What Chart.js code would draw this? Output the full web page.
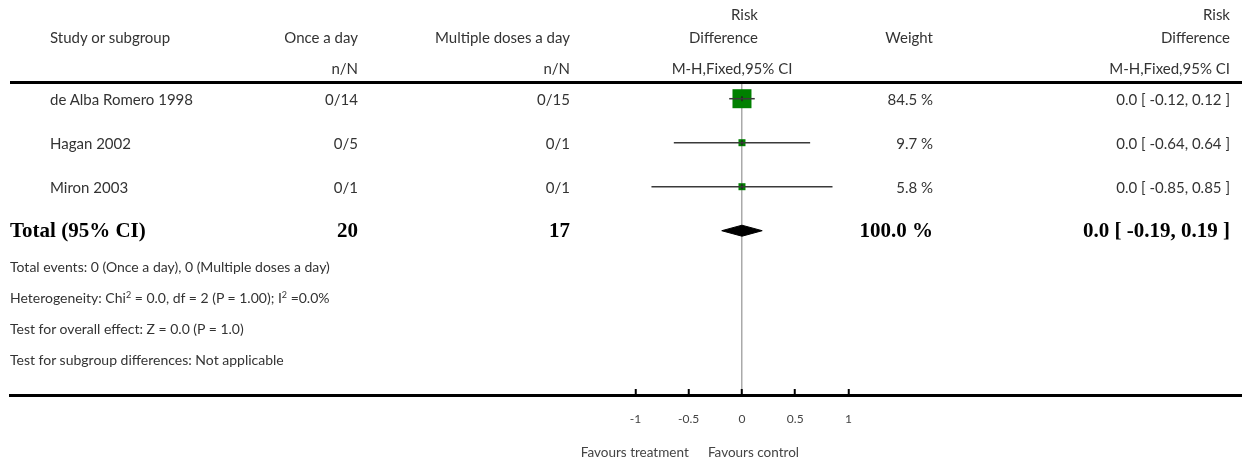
<!DOCTYPE html>
<html>
<head>
<meta charset="utf-8">
<script src="https://cdn.jsdelivr.net/npm/chart.js@4/dist/chart.umd.min.js"></script>
<style>
  body { margin: 0; background: #fff; }
  #wrap { position: relative; width: 1242px; height: 463px; font-family: Lato, "Open Sans", sans-serif; font-size: 15px; color: #333; }
  #plot { position: absolute; left: 0; top: 0; }
  .cell { position: absolute; white-space: nowrap; line-height: 1.2; transform: translateY(-50%); }
  .cell.c { transform: translate(-50%, -50%); }
  .bold { font-family: "Liberation Serif", "DejaVu Serif", serif; font-weight: bold; font-size: 21px; color: #000; }
  .small { font-size: 13.5px; color: #444; }
  .note { font-size: 14px; }
  sup { font-size: 9px; line-height: 0; vertical-align: 5px; }
  #rule { position: absolute; left: 10px; top: 81px; width: 1232px; height: 3px; background: #000; }
</style>
</head>
<body>
<div id="wrap">
  <canvas id="plot" width="1242" height="463"></canvas>
  <div id="rule"></div>
</div>
<script>
// data
const studies = ['de Alba Romero 1998', 'Hagan 2002', 'Miron 2003'];
const onceEvents = ['0/14', '0/5', '0/1'];
const multiEvents = ['0/15', '0/1', '0/1'];
const rd = [0.0, 0.0, 0.0];
const rdLow = [-0.12, -0.64, -0.85];
const rdHigh = [0.12, 0.64, 0.85];
const weights = [84.5, 9.7, 5.8];

const totalLabel = 'Total (95% CI)';
const totalOnce = 20;
const totalMulti = 17;
const totalWeight = 100.0;
const totalRd = 0.0;
const totalLow = -0.19;
const totalHigh = 0.19;

const xTicks = [-1, -0.5, 0, 0.5, 1];
const footnotes = [
    'Total events: 0 (Once a day), 0 (Multiple doses a day)',
    'Heterogeneity: Chi<sup>2</sup> = 0.0, df = 2 (P = 1.00); I<sup>2</sup> =0.0%',
    'Test for overall effect: Z = 0.0 (P = 1.0)',
    'Test for subgroup differences: Not applicable'
];

const W = 1242;
const wrap = document.getElementById('wrap');
const totalRow = studies.length;

function markerSide(w) {
    // square area follows the weight, with a minimum size
    return Math.max(7, 19 * Math.sqrt(w / 84.5));
}

function fmtCI(est, lo, hi) {
    return est.toFixed(1) + ' [ ' + lo.toFixed(2) + ', ' + hi.toFixed(2) + ' ]';
}

const datasets = [];

// confidence intervals (first datasets are drawn on top)
studies.forEach((s, i) => {
    datasets.push({
        data: [{ x: rdLow[i], y: i }, { x: rdHigh[i], y: i }],
        showLine: true,
        borderColor: '#3a3a3a',
        borderWidth: 1.5,
        pointRadius: 0
    });
});

// small centre mark
datasets.push({
    data: studies.map((s, i) => ({ x: rd[i], y: i })),
    pointStyle: 'line',
    rotation: 90,
    pointRadius: 2.5,
    borderColor: '#222',
    borderWidth: 1.5
});

// weight squares
datasets.push({
    data: studies.map((s, i) => ({ x: rd[i], y: i })),
    pointStyle: 'rect',
    pointRadius: ctx => markerSide(weights[ctx.dataIndex]) / (2 * Math.SQRT1_2),
    backgroundColor: '#008000',
    borderWidth: 0
});

// pooled diamond
const dh = 0.125;
datasets.push({
    data: [
        { x: totalLow, y: totalRow },
        { x: totalRd, y: totalRow - dh },
        { x: totalHigh, y: totalRow },
        { x: totalRd, y: totalRow + dh },
        { x: totalLow, y: totalRow }
    ],
    showLine: true,
    fill: 'shape',
    backgroundColor: '#000',
    borderColor: '#000',
    borderWidth: 1,
    pointRadius: 0
});

const chart = new Chart(document.getElementById('plot'), {
    type: 'scatter',
    data: { datasets: datasets },
    options: {
        responsive: false,
        animation: false,
        events: [],
        layout: { autoPadding: false, padding: { left: 10, right: 0, top: 83, bottom: 0 } },
        plugins: { legend: { display: false }, tooltip: { enabled: false } },
        scales: {
            x: {
                type: 'linear',
                min: -6.873,
                max: 4.695,
                afterBuildTicks: s => { s.ticks = xTicks.map(v => ({ value: v })); },
                afterFit: s => { s.height = 68; },
                border: { display: true, color: '#000', width: 3 },
                grid: {
                    color: c => (c.tick && c.tick.value === 0) ? '#aaa' : 'rgba(0,0,0,0)',
                    lineWidth: 1.5,
                    drawTicks: true,
                    tickLength: -6,
                    tickColor: '#000',
                    tickWidth: 2
                },
                ticks: {
                    padding: 23,
                    color: '#444',
                    font: { family: 'Lato', size: 12 },
                    callback: v => String(v)
                }
            },
            y: {
                type: 'linear',
                display: false,
                reverse: true,
                min: -0.357,
                max: 6.734
            }
        }
    }
});

function put(html, x, y, align, cls) {
    const el = document.createElement('div');
    el.className = 'cell ' + (cls || '');
    el.innerHTML = html;
    el.style.top = y + 'px';
    if (align === 'right') el.style.right = (W - x) + 'px';
    else if (align === 'center') { el.style.left = x + 'px'; el.classList.add('c'); }
    else el.style.left = x + 'px';
    wrap.appendChild(el);
}

// header
put('Study or subgroup', 50, 37, 'left');
put('Once a day', 358, 37, 'right');
put('n/N', 358, 68, 'right');
put('Multiple doses a day', 570, 37, 'right');
put('n/N', 570, 68, 'right');
put('Risk', 758, 14, 'right');
put('Difference', 758, 37, 'right');
put('M-H,Fixed,95% CI', 732, 68, 'center');
put('Weight', 933, 37, 'right');
put('Risk', 1230, 14, 'right');
put('Difference', 1230, 37, 'right');
put('M-H,Fixed,95% CI', 1230, 68, 'right');

// study rows, placed on the chart's own y scale
const ys = chart.scales.y;
studies.forEach((s, i) => {
    const y = ys.getPixelForValue(i);
    put(s, 50, y, 'left');
    put(onceEvents[i], 358, y, 'right');
    put(multiEvents[i], 570, y, 'right');
    put(weights[i].toFixed(1) + ' %', 933, y, 'right');
    put(fmtCI(rd[i], rdLow[i], rdHigh[i]), 1230, y, 'right');
});

const yt = ys.getPixelForValue(totalRow);
put(totalLabel, 10, yt, 'left', 'bold');
put(String(totalOnce), 358, yt, 'right', 'bold');
put(String(totalMulti), 570, yt, 'right', 'bold');
put(totalWeight.toFixed(1) + ' %', 933, yt, 'right', 'bold');
put(fmtCI(totalRd, totalLow, totalHigh), 1230, yt, 'right', 'bold');

// footnotes
footnotes.forEach((f, i) => put(f, 10, 267 + i * 31, 'left', 'note'));

// axis captions
const xs = chart.scales.x;
put('Favours treatment', xs.getPixelForValue(-0.5), 452, 'right', 'small');
put('Favours control', xs.getPixelForValue(-0.32), 452, 'left', 'small');
</script>
</body>
</html>
